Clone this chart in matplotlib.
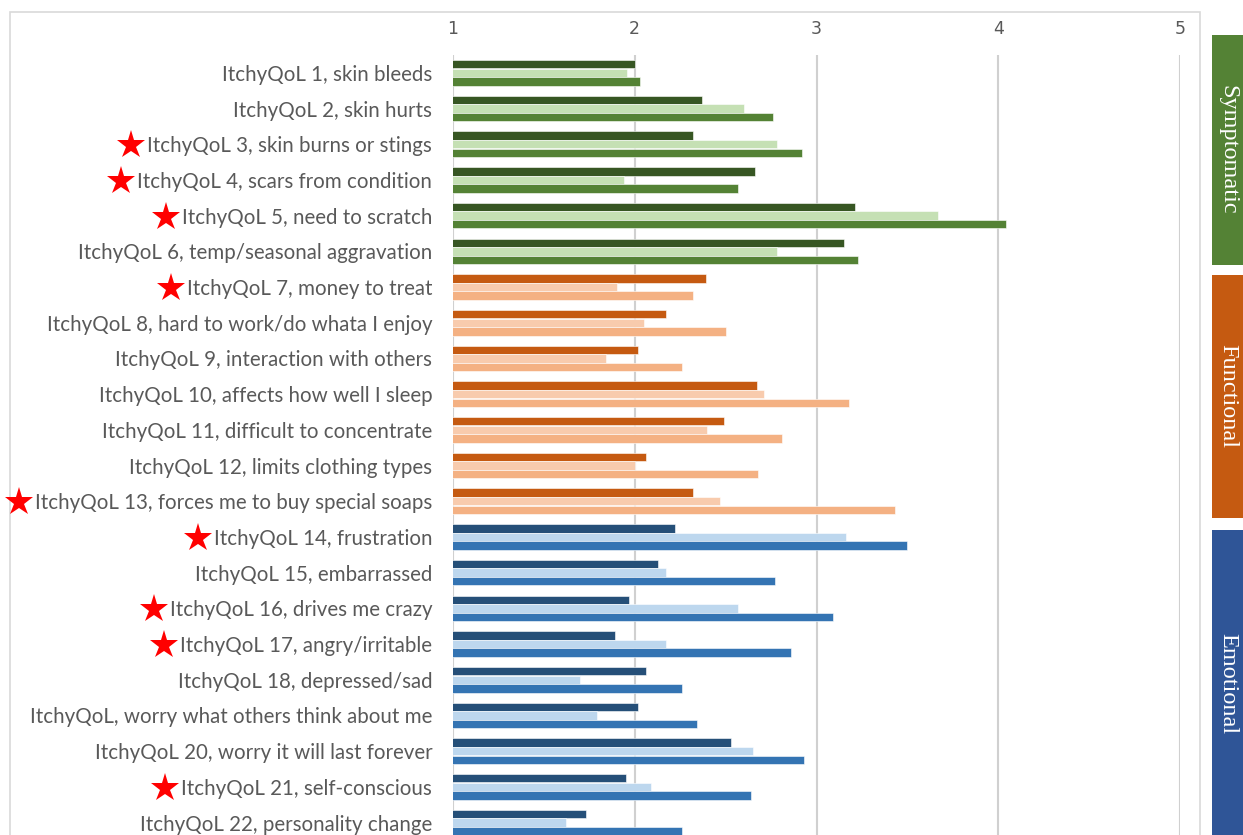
import matplotlib
matplotlib.use("Agg")
import matplotlib.pyplot as plt
from matplotlib.patches import Rectangle
from matplotlib.lines import Line2D
import numpy as np

labels = [
    "ItchyQoL 1, skin bleeds",
    "ItchyQoL 2, skin hurts",
    "ItchyQoL 3, skin burns or stings",
    "ItchyQoL 4, scars from condition",
    "ItchyQoL 5, need to scratch",
    "ItchyQoL 6, temp/seasonal aggravation",
    "ItchyQoL 7, money to treat",
    "ItchyQoL 8, hard to work/do whata I enjoy",
    "ItchyQoL 9, interaction with others",
    "ItchyQoL 10, affects how well I sleep",
    "ItchyQoL 11, difficult to concentrate",
    "ItchyQoL 12, limits clothing types",
    "ItchyQoL 13, forces me to buy special soaps",
    "ItchyQoL 14, frustration",
    "ItchyQoL 15, embarrassed",
    "ItchyQoL 16, drives me crazy",
    "ItchyQoL 17, angry/irritable",
    "ItchyQoL 18, depressed/sad",
    "ItchyQoL, worry what others think about me",
    "ItchyQoL 20, worry it will last forever",
    "ItchyQoL 21, self-conscious",
    "ItchyQoL 22, personality change",
]
starred = [3, 4, 5, 7, 13, 14, 16, 17, 21]

series_dark = [2.00, 2.37, 2.32, 2.66, 3.21, 3.15,
               2.39, 2.17, 2.02, 2.67, 2.49, 2.06, 2.32,
               2.22, 2.13, 1.97, 1.89, 2.06, 2.02, 2.53, 1.95, 1.73]
series_light = [1.96, 2.60, 2.78, 1.94, 3.67, 2.78,
                1.90, 2.05, 1.84, 2.71, 2.40, 2.00, 2.47,
                3.16, 2.17, 2.57, 2.17, 1.70, 1.79, 2.65, 2.09, 1.62]
series_mid = [2.03, 2.76, 2.92, 2.57, 4.04, 3.23,
              2.32, 2.50, 2.26, 3.18, 2.81, 2.68, 3.43,
              3.50, 2.77, 3.09, 2.86, 2.26, 2.34, 2.93, 2.64, 2.26]

domains = ["Symptomatic", "Functional", "Emotional"]
domain_sizes = [6, 7, 9]

palette = {
    "Symptomatic": ("#375623", "#C5E0B4", "#548235"),
    "Functional": ("#C55A11", "#F8CBAD", "#F4B183"),
    "Emotional": ("#254F78", "#BDD7EE", "#3474B3"),
}
box_colors = {"Symptomatic": "#548235", "Functional": "#C55A11", "Emotional": "#2F5597"}

W, H = 1243, 835
fig = plt.figure(figsize=(W / 100, H / 100), dpi=100)

# outer frame
fig.add_artist(Rectangle((10 / W, -0.1), (1200 - 10) / W, 1.1 - 12 / H,
                         transform=fig.transFigure, fill=False,
                         edgecolor="#D9D9D9", linewidth=1.2))

pitch = 35.7
top_px = 55
ax_h = 22 * pitch
ax = fig.add_axes([453 / W, (H - top_px - ax_h) / H, (1180 - 453) / W, ax_h / H])

y = np.arange(len(labels))
colors_dark, colors_light, colors_mid = [], [], []
for d, n in zip(domains, domain_sizes):
    colors_dark += [palette[d][0]] * n
    colors_light += [palette[d][1]] * n
    colors_mid += [palette[d][2]] * n

bh = 0.235
off = 0.24
ax.barh(y - off, series_dark, height=bh, color=colors_dark, edgecolor="white", linewidth=0.4, zorder=3)
ax.barh(y, series_light, height=bh, color=colors_light, edgecolor="white", linewidth=0.4, zorder=3)
ax.barh(y + off, series_mid, height=bh, color=colors_mid, edgecolor="white", linewidth=0.4, zorder=3)

ax.set_xlim(1, 5)
ax.set_ylim(len(labels) - 0.5, -0.5)
ax.set_xticks([1, 2, 3, 4, 5])
ax.xaxis.tick_top()
ax.tick_params(axis="x", length=0, pad=12, labelsize=12.5, labelcolor="#595959")
ax.set_yticks(y)
ax.set_yticklabels(labels, fontsize=14.8, color="#595959", family="Lato")
ax.tick_params(axis="y", length=0, pad=15)
for lab in ax.get_yticklabels():
    lab.set_y(lab.get_position()[1])
for s in ax.spines.values():
    s.set_visible(False)
ax.grid(axis="x", color="#D0D0D0", linewidth=1.5, zorder=0)
ax.set_axisbelow(True)

# red stars beside selected items
fig.canvas.draw()
renderer = fig.canvas.get_renderer()
inv = fig.transFigure.inverted()
for lab, i in zip(ax.get_yticklabels(), range(len(labels))):
    if i + 1 in starred:
        bb = lab.get_window_extent(renderer)
        sx, sy = inv.transform((bb.x0 - 16, (bb.y0 + bb.y1) / 2 + 1))
        fig.add_artist(Line2D([sx], [sy], marker="*", markersize=21, color="#FF0000",
                              markeredgewidth=0, transform=fig.transFigure))

# domain boxes on the right
box_ranges = [(35, 265), (275, 518), (530, 840)]
for d, (y0, y1) in zip(domains, box_ranges):
    fig.add_artist(Rectangle((1212 / W, 1 - y1 / H), (W - 1212) / W, (y1 - y0) / H,
                             transform=fig.transFigure, color=box_colors[d], linewidth=0))
    yc = min((y0 + y1) / 2, 684)
    fig.text(1228 / W, 1 - yc / H, d, rotation=-90, ha="center", va="center",
             color="white", fontsize=17.5, family="Liberation Serif")

fig.savefig("out.png", dpi=100)
